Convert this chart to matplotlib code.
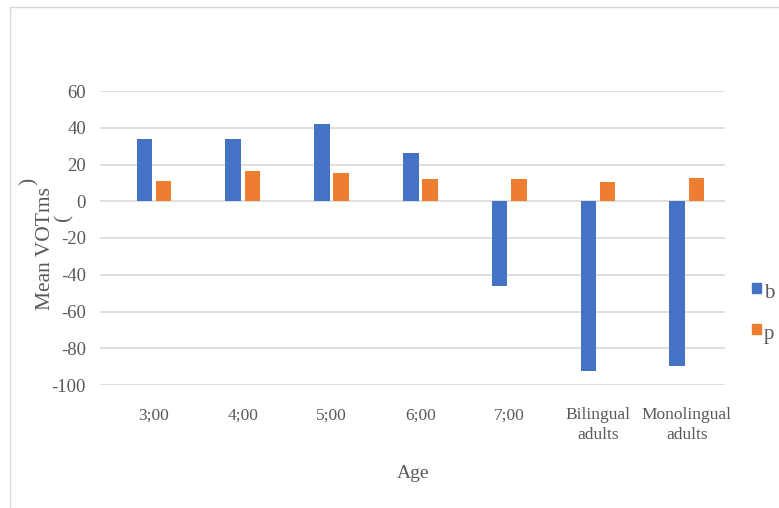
import matplotlib.pyplot as plt
import numpy as np
from matplotlib.patches import Rectangle

plt.rcParams['font.family'] = ['Liberation Serif', 'DejaVu Serif']
plt.rcParams['axes.unicode_minus'] = False

ages = ["3;00", "4;00", "5;00", "6;00", "7;00", "Bilingual\nadults", "Monolingual\nadults"]
b_vot = [34.1, 33.9, 41.9, 26.0, -46.3, -92.5, -89.8]
p_vot = [10.9, 16.7, 15.4, 12.3, 12.3, 10.3, 12.9]

blue = "#4472C4"
orange = "#ED7D31"
grey = "#595959"

fig = plt.figure(figsize=(7.79, 5.08), dpi=100)
ax = fig.add_axes([100 / 779, 1 - 385 / 508, 625 / 779, 294 / 508])

x = np.arange(len(ages))
w = 0.176
gap = 0.02
ax.bar(x - w / 2 - gap, b_vot, w, color=blue, label="b", zorder=3)
ax.bar(x + w / 2 + gap, p_vot, w, color=orange, label="p", zorder=3)

ax.set_xlim(-0.608, 6.43)
ax.set_ylim(-100, 60)
ax.set_yticks(np.arange(-100, 61, 20))
ax.yaxis.grid(True, color="#d9d9d9", linewidth=1.2, zorder=0)
for s in ax.spines.values():
    s.set_visible(False)
ax.tick_params(length=0, labelsize=13.5, colors=grey)
ax.tick_params(axis="y", pad=10)
ax.tick_params(axis="x", pad=16, labelsize=12.5)
ax.set_xticks(x)
ax.set_xticklabels(ages, linespacing=1.35)

fig.text(413 / 779, 1 - 474 / 508, "Age", ha="center", va="center", fontsize=14, color=grey)

# y label with the stray brackets
fig.text(46 / 779, 1 - 248 / 508, "Mean VOTms", rotation=90, ha="center", va="center",
         fontsize=15.5, color=grey)
fig.text(29 / 779, 1 - 181 / 508, ")", rotation=90, ha="center", va="center",
         fontsize=15.5, color=grey)
fig.text(64 / 779, 1 - 217 / 508, "(", rotation=90, ha="center", va="center",
         fontsize=15.5, color=grey)

# legend
for yy, col, lab in [(288, blue, "b"), (329, orange, "p")]:
    fig.patches.append(Rectangle((752 / 779, 1 - (yy + 5) / 508), 9 / 779, 10 / 508,
                                 transform=fig.transFigure, color=col))
    fig.text(764 / 779, 1 - (yy + 5) / 508, lab, ha="left", va="center", fontsize=15, color=grey)

# outer frame
fig.patches.append(Rectangle((10 / 779, -0.01), 1.0, 1 - 7 / 508 + 0.01, transform=fig.transFigure,
                             fill=False, edgecolor="#d9d9d9", linewidth=1))

fig.savefig("out.png", dpi=100)
